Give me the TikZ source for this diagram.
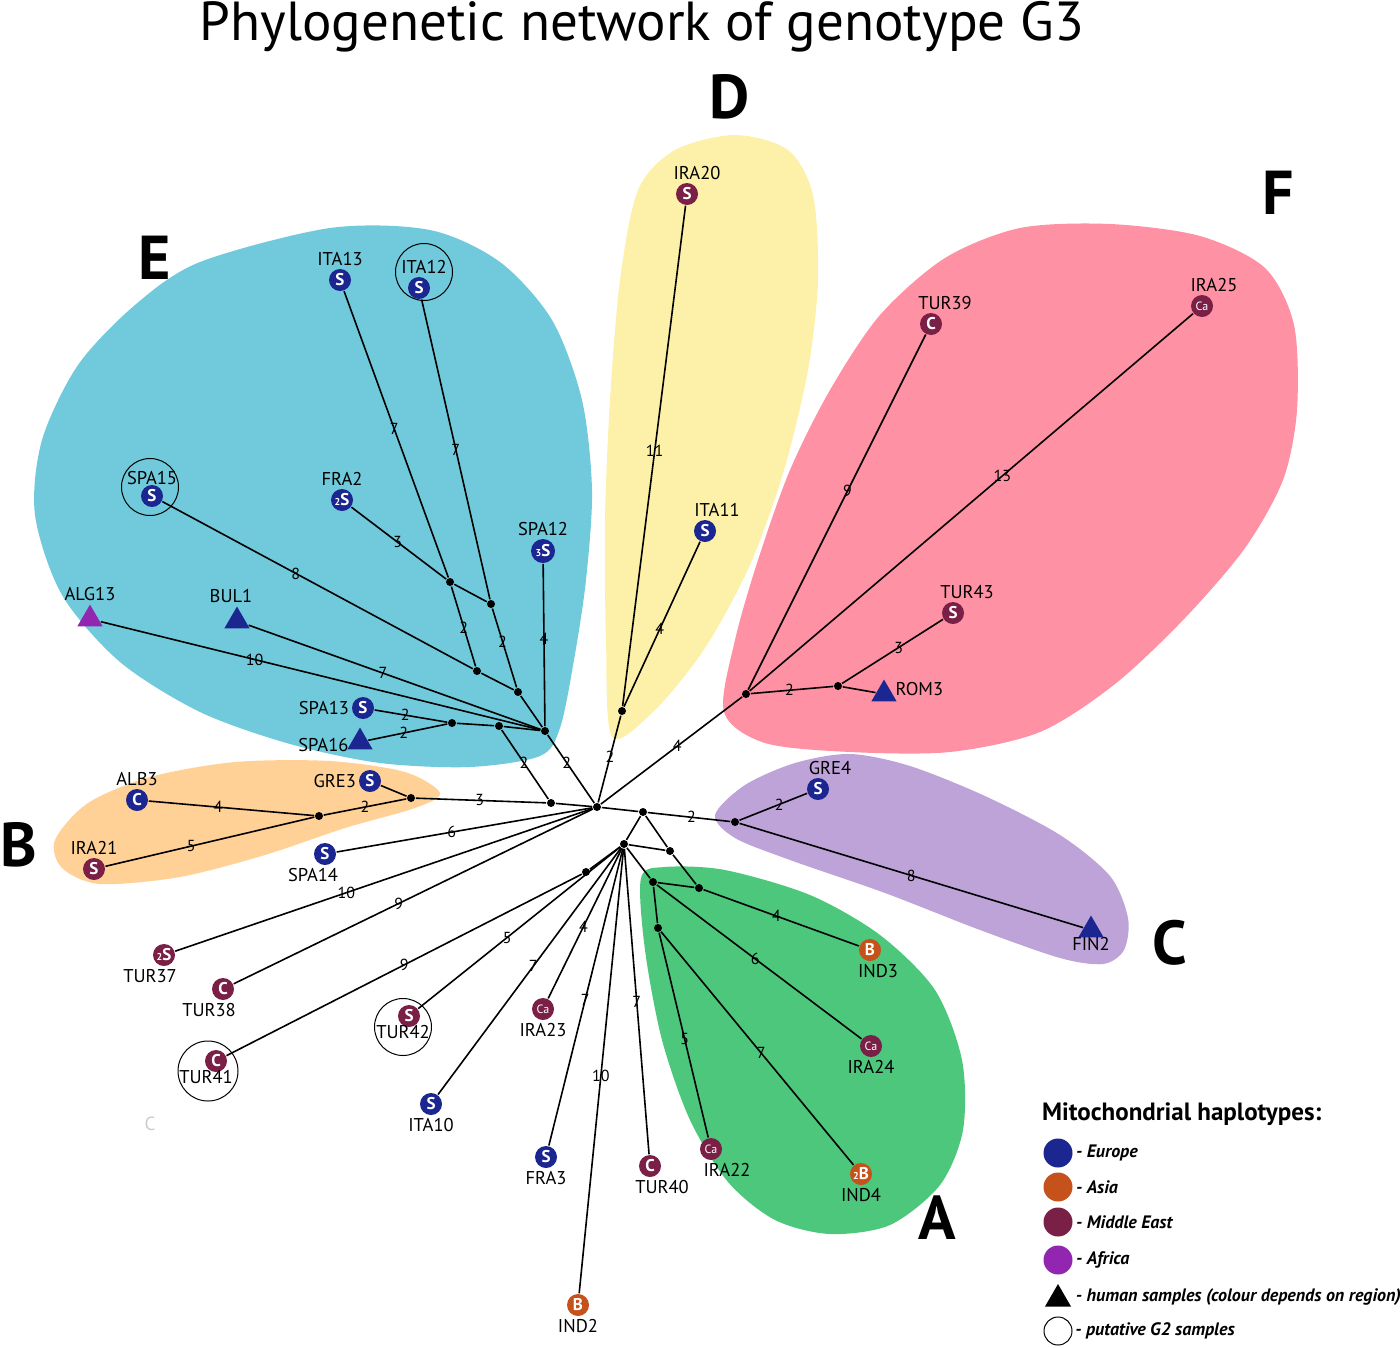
\documentclass[tikz,border=0pt]{standalone}
\usepackage{fontspec}
\setmainfont{PT Sans}
\usetikzlibrary{shapes.geometric, positioning}

\definecolor{europe}{HTML}{1B2690}
\definecolor{asia}{HTML}{C5511B}
\definecolor{mideast}{HTML}{7A1F45}
\definecolor{africa}{HTML}{9226B0}
\definecolor{blobE}{HTML}{70CADC}
\definecolor{blobD}{HTML}{FDF0A8}
\definecolor{blobF}{HTML}{FF91A4}
\definecolor{blobB}{HTML}{FFD197}
\definecolor{blobC}{HTML}{BEA3D8}
\definecolor{blobA}{HTML}{4CC77B}

\newcommand{\sm}[1]{{\fontsize{10}{10}\selectfont #1}}
\newcommand{\namefont}{\fontsize{18.5}{20}\selectfont}

\tikzset{
  hap/.style={circle, inner sep=0pt, minimum size=22pt, text=white, font=\fontsize{17}{17}\selectfont\bfseries},
  eu/.style={hap, fill=europe},
  asi/.style={hap, fill=asia},
  me/.style={hap, fill=mideast},
  human/.style={regular polygon, regular polygon sides=3, inner sep=0pt, minimum size=29pt},
  jn/.style={circle, fill=black, inner sep=0pt, minimum size=8pt},
  gtwo/.style={circle, draw, line width=1pt, minimum size=57pt, inner sep=0pt},
  num/.style={font=\fontsize{16}{16}\selectfont, inner sep=0pt},
  clus/.style={font=\fontsize{62}{62}\selectfont\bfseries},
  legtxt/.style={font=\fontsize{18}{20}\selectfont\bfseries\itshape, inner sep=1pt},
  every label/.style={font=\namefont, inner sep=1.5pt},
}

\begin{document}
\begin{tikzpicture}[x=1pt, y=-1pt, line width=1.6pt]
\useasboundingbox (0,0) rectangle (1400,1347);

% coloured groups
\fill[blobE] plot[smooth cycle] coordinates {(200,262) (330,228) (430,230) (500,262) (552,320) (582,400) (592,490) (586,580) (574,660) (560,728) (540,756) (470,767) (380,763) (290,744) (200,712) (120,662) (62,595) (35,515) (42,440) (78,365) (135,305)};
\fill[blobD] plot[smooth cycle] coordinates {(612,737) (606,640) (605,520) (610,400) (620,280) (638,190) (675,150) (735,135) (788,150) (813,195) (818,280) (808,370) (784,470) (750,565) (705,648) (655,710)};
\fill[blobF] plot[smooth cycle] coordinates {(724,712) (735,640) (758,560) (790,470) (830,390) (880,315) (945,258) (1020,228) (1110,224) (1200,236) (1265,268) (1294,325) (1297,410) (1283,480) (1245,548) (1185,618) (1115,684) (1040,732) (950,752) (850,752) (765,743)};
\fill[blobC] plot[smooth cycle] coordinates {(715,815) (745,785) (795,763) (850,754) (910,766) (985,796) (1060,835) (1110,876) (1128,918) (1124,950) (1103,964) (1060,958) (980,930) (885,893) (790,860) (735,838)};
\fill[blobB] plot[smooth cycle] coordinates {(440,793) (405,772) (330,761) (235,762) (150,777) (88,803) (55,840) (62,868) (100,884) (180,877) (265,855) (345,828) (415,808)};
\fill[blobA] plot[smooth cycle] coordinates {(641,878) (665,867) (725,870) (810,895) (880,935) (935,990) (962,1060) (963,1130) (940,1185) (890,1225) (830,1234) (775,1220) (728,1182) (690,1120) (662,1040) (645,950)};

\node[font=\fontsize{55}{58}\selectfont] (title) at (642,27) {Phylogenetic network of genotype G3};
\node[clus] (labD) at (730,97) {D};
\node[clus] (labF) at (1278,193) {F};
\node[clus] (labE) at (155,258) {E};
\node[clus] (labB) at (19,845) {B};
\node[clus] (labC) at (1170,943) {C};
\node[clus] (labA) at (937,1218) {A};

% junctions
\node[jn] (hub) at (597,807) {};
\node[jn] (n1) at (450,582) {};
\node[jn] (n2) at (491,604) {};
\node[jn] (n3) at (477,671) {};
\node[jn] (n4) at (518,692) {};
\node[jn] (ehub) at (545,731) {};
\node[jn] (e5) at (452,723) {};
\node[jn] (e6) at (499,726) {};
\node[jn] (hb) at (551,803) {};
\node[jn] (b1) at (411,798) {};
\node[jn] (b2) at (319,816) {};
\node[jn] (dn) at (622,711) {};
\node[jn] (fn) at (746,694) {};
\node[jn] (f2) at (838,686) {};
\node[jn] (hr) at (643,812) {};
\node[jn] (cn) at (735,822) {};
\node[jn] (lh) at (624,844) {};
\node[jn] (a1) at (670,851) {};
\node[jn] (a2) at (653,882) {};
\node[jn] (a3) at (699,888) {};
\node[jn] (a4) at (658,928) {};
\node[jn] (l1) at (586,872) {};

% group E
\node[eu, label={above:ITA13}] (ita13) at (340,280) {S};
\node[eu, label={[xshift=5pt]above:ITA12}] (ita12) at (419,288) {S};
\node[eu, label={[label distance=-3pt]above:SPA15}] (spa15) at (152,496) {S};
\node[eu, label={above:FRA2}] (fra2) at (342,500) {\sm{2}S};
\node[eu, minimum size=24pt, label={above:SPA12}] (spa12) at (543,551) {\sm{3}S};
\node[human, fill=africa, label={above:ALG13}] (alg13) at (90,619) {};
\node[human, fill=europe, label={[xshift=-6pt]above:BUL1}] (bul1) at (237,621) {};
\node[eu, label={left:SPA13}] (spa13) at (363,708) {S};
\node[human, fill=europe, label={[yshift=-3pt]left:SPA16}] (spa16) at (360,742) {};
\node[gtwo] (g2ita12) at (424,272) {};
\node[gtwo] (g2spa15) at (150,487) {};

% group B and the rest on the left
\node[eu, label={left:GRE3}] (gre3) at (370,781) {S};
\node[eu, label={above:ALB3}] (alb3) at (137,800) {C};
\node[me, label={above:IRA21}] (ira21) at (94,869) {S};
\node[eu, label={[xshift=-12pt]below:SPA14}] (spa14) at (325,854) {S};
\node[me, label={[xshift=-14pt]below:TUR37}] (tur37) at (164,955) {\sm{2}S};
\node[me, label={[xshift=-14pt]below:TUR38}] (tur38) at (223,989) {C};
\node[me, label={[xshift=-10pt,label distance=-5pt]below:TUR41}] (tur41) at (216,1061) {C};
\node[me, label={[xshift=-6pt,label distance=-5pt]below:TUR42}] (tur42) at (409,1016) {S};
\node[gtwo, minimum size=60pt] (g2tur41) at (208,1071) {};
\node[gtwo] (g2tur42) at (403,1027) {};
\node[eu, label={below:ITA10}] (ita10) at (431,1104) {S};
\node[me, font=\fontsize{12}{12}\selectfont, label={below:IRA23}] (ira23) at (543,1009) {Ca};
\node[eu, label={below:FRA3}] (fra3) at (546,1157) {S};
\node[asi, label={below:IND2}] (ind2) at (578,1305) {B};
\node[me, label={[xshift=12pt]below:TUR40}] (tur40) at (650,1166) {C};
\node[text=black!20, font=\fontsize{19}{19}\selectfont] (ghost) at (150,1124) {C};

% groups D and F
\node[me, label={[xshift=10pt]above:IRA20}] (ira20) at (687,194) {S};
\node[eu, label={[xshift=12pt]above:ITA11}] (ita11) at (705,531) {S};
\node[me, label={[xshift=14pt]above:TUR39}] (tur39) at (931,324) {C};
\node[me, font=\fontsize{12}{12}\selectfont, label={[xshift=12pt]above:IRA25}] (ira25) at (1202,306) {Ca};
\node[me, label={[xshift=14pt]above:TUR43}] (tur43) at (953,613) {S};
\node[human, fill=europe, label={[yshift=5pt]right:ROM3}] (rom3) at (884,694) {};

% groups C and A
\node[eu, label={[xshift=12pt]above:GRE4}] (gre4) at (818,789) {S};
\node[human, fill=europe, label={[label distance=-3pt]below:FIN2}] (fin2) at (1091,930) {};
\node[asi, label={[xshift=8pt]below:IND3}] (ind3) at (870,950) {B};
\node[me, font=\fontsize{12}{12}\selectfont, label={below:IRA24}] (ira24) at (871,1046) {Ca};
\node[me, font=\fontsize{12}{12}\selectfont, label={[xshift=16pt]below:IRA22}] (ira22) at (711,1149) {Ca};
\node[asi, label={below:IND4}] (ind4) at (861,1174) {\sm{2}B};

% branches
\draw (ita13) -- node[num, pos=.48] {7} (n1);
\draw (ita12) -- node[num, pos=.5] {7} (n2);
\draw (fra2) -- node[num, pos=.49] {3} (n1) -- (n2);
\draw (n1) -- node[num, pos=.51] {2} (n3);
\draw (n2) -- node[num, pos=.42] {2} (n4);
\draw (spa15) -- node[num, pos=.43] {8} (n3) -- (n4) -- (ehub);
\draw (spa12) -- node[num, pos=.46] {4} (ehub);
\draw (alg13) -- node[num, pos=.35] {10} (ehub);
\draw (bul1) -- node[num, pos=.46] {7} (ehub);
\draw (spa13) -- node[num, pos=.42] {2} (e5);
\draw (spa16) -- node[num, pos=.45] {2} (e5);
\draw (e5) -- (e6) -- (ehub);
\draw (e6) -- node[num, pos=.48] {2} (hb);
\draw (ehub) -- node[num, pos=.41] {2} (hub);
\draw (gre3) -- (b1);
\draw (b1) -- node[num, pos=.5] {2} (b2);
\draw (alb3) -- node[num, pos=.42] {4} (b2);
\draw (ira21) -- node[num, pos=.41] {5} (b2);
\draw (b1) -- node[num, pos=.49] {3} (hb) -- (hub);
\draw (spa14) -- node[num, pos=.45] {6} (hub);
\draw (tur37) -- node[num, pos=.41] {10} (hub);
\draw (tur38) -- node[num, pos=.46] {9} (hub);
\draw (hub) -- node[num, pos=.52] {2} (dn);
\draw (dn) -- node[num, pos=.51] {11} (ira20);
\draw (dn) -- node[num, pos=.47] {4} (ita11);
\draw (hub) -- node[num, pos=.54] {4} (fn);
\draw (fn) -- node[num, pos=.56] {9} (tur39);
\draw (fn) -- node[num, pos=.57] {13} (ira25);
\draw (fn) -- node[num, pos=.47] {2} (f2) -- (rom3);
\draw (f2) -- node[num, pos=.56] {3} (tur43);
\draw (hub) -- (hr);
\draw (hr) -- node[num, pos=.53] {2} (cn);
\draw (cn) -- node[num, pos=.59] {2} (gre4);
\draw (cn) -- node[num, pos=.5] {8} (fin2);
\draw (hr) -- (lh) -- (a1) -- (hr);
\draw (a1) -- (a3) -- (a2) -- (lh);
\draw (a3) -- node[num, pos=.47] {4} (ind3);
\draw (a2) -- node[num, pos=.48] {6} (ira24);
\draw (a2) -- (a4);
\draw (a4) -- node[num, pos=.52] {5} (ira22);
\draw (a4) -- node[num, pos=.52] {7} (ind4);
\draw (lh) -- (l1) -- node[num, pos=.5] {9} (tur41);
\draw (lh) -- node[num, pos=.56] {5} (tur42);
\draw (lh) -- node[num, pos=.48] {7} (ita10);
\draw (lh) -- node[num, pos=.52] {4} (ira23);
\draw (lh) -- node[num, pos=.51] {7} (fra3);
\draw (lh) -- node[num, pos=.51] {10} (ind2);
\draw (lh) -- node[num, pos=.5] {7} (tur40);

% legend
\node[font=\fontsize{25}{28}\selectfont\bfseries, anchor=west] (legtitle) at (1038,1114) {Mitochondrial haplotypes:};
\node[circle, fill=europe, minimum size=29pt] (legeu) at (1058,1153) {};
\node[circle, fill=asia, minimum size=29pt] (legas) at (1058,1187) {};
\node[circle, fill=mideast, minimum size=29pt] (legme) at (1058,1222) {};
\node[circle, fill=africa, minimum size=29pt] (legaf) at (1058,1260) {};
\node[human, fill=black, minimum size=30pt] (leghu) at (1058,1299) {};
\node[circle, draw, line width=1pt, minimum size=28pt] (legg2) at (1058,1331) {};
\node[legtxt, right=1pt of legeu] {- Europe};
\node[legtxt, right=1pt of legas] {- Asia};
\node[legtxt, right=1pt of legme] {- Middle East};
\node[legtxt, right=1pt of legaf] {- Africa};
\node[legtxt, anchor=west] at (1074,1297) {- human samples (colour depends on region)};
\node[legtxt, right=1pt of legg2] {- putative G2 samples};
\end{tikzpicture}
\end{document}
